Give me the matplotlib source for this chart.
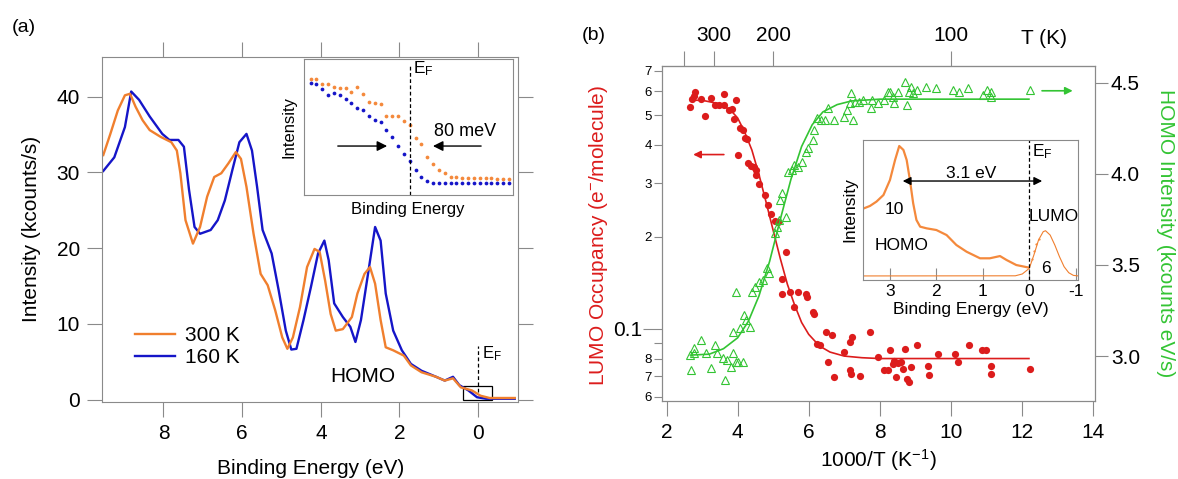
import matplotlib
matplotlib.use('Agg')
import matplotlib.pyplot as plt
from matplotlib.patches import Rectangle
import numpy as np

plt.rcParams['font.family'] = ['Liberation Sans', 'DejaVu Sans']
plt.rcParams['mathtext.default'] = 'regular'

W, H = 1178, 479

# ---- (a) valence band spectra: binding energy (eV), intensity (kcounts/s)
be_160 = [9.53, 9.25, 8.98, 8.82, 8.62, 8.35, 8.03, 7.85, 7.62, 7.48, 7.35, 7.21,
          7.07, 6.80, 6.62, 6.44, 6.25, 6.07, 5.89, 5.75, 5.62, 5.48, 5.25, 5.07,
          4.89, 4.75, 4.62, 4.44, 4.25, 4.07, 3.91, 3.80, 3.66, 3.44, 3.25, 3.12,
          2.98, 2.80, 2.62, 2.48, 2.35, 2.16, 1.94, 1.71, 1.44, 1.07, 0.85, 0.64,
          0.48, 0.25, 0.03, -0.20, -0.93]
int_160 = [30.2, 32.0, 36.0, 40.7, 39.6, 37.4, 35.1, 34.3, 34.3, 33.4, 27.7, 22.8,
           21.9, 22.4, 23.7, 26.3, 30.3, 34.0, 35.1, 32.9, 28.1, 22.4, 19.3, 14.4,
           9.1, 6.6, 6.7, 10.5, 14.9, 19.3, 21.0, 18.4, 12.7, 10.9, 9.6, 7.6,
           10.5, 16.6, 22.8, 21.0, 14.0, 9.1, 6.5, 4.7, 3.8, 3.0, 2.5, 3.0,
           1.9, 1.2, 0.3, 0.1, 0.1]

be_300 = [9.53, 9.35, 9.16, 8.98, 8.85, 8.71, 8.53, 8.35, 8.07, 7.80, 7.66, 7.57,
          7.44, 7.25, 7.07, 6.89, 6.71, 6.53, 6.35, 6.16, 6.03, 5.89, 5.71, 5.53,
          5.35, 5.16, 4.98, 4.85, 4.71, 4.53, 4.35, 4.16, 4.03, 3.89, 3.75, 3.62,
          3.44, 3.21, 3.07, 2.89, 2.75, 2.62, 2.48, 2.35, 2.16, 1.89, 1.71, 1.44,
          1.07, 0.85, 0.64, 0.44, 0.16, -0.06, -0.29, -0.93]
int_300 = [32.3, 35.1, 38.2, 40.2, 40.4, 38.7, 36.9, 35.6, 34.7, 34.0, 32.9, 29.9,
           23.7, 20.6, 22.8, 26.8, 29.4, 29.9, 31.2, 32.7, 31.8, 28.1, 21.9, 16.6,
           15.1, 11.8, 8.2, 6.7, 8.2, 12.2, 17.5, 19.9, 19.5, 15.7, 11.3, 9.1,
           9.3, 10.9, 14.0, 16.6, 17.5, 15.3, 10.5, 6.9, 6.5, 5.8, 4.5, 3.6,
           3.0, 2.5, 2.8, 1.6, 1.2, 0.5, 0.2, 0.2]

# ---- (a) inset: Fermi edge, binding energy (meV), intensity (a.u.)
edge_be = [170, 160, 150, 140, 130, 120, 110, 100, 90, 80, 70, 60, 50, 40, 30,
           20, 10, 0, -10, -20, -30, -40, -50, -60, -70, -80, -90, -100, -110,
           -120, -130, -140, -150, -160, -170]
edge_300 = [85.0, 85.0, 81.4, 81.4, 79.7, 78.9, 78.9, 76.0, 79.2, 74.0, 68.4, 67.9,
            66.7, 57.8, 57.8, 57.8, 54.7, 51.2, 41.9, 37.3, 28.2, 22.5, 18.1, 15.9,
            13.5, 13.5, 12.7, 12.3, 12.3, 12.3, 12.3, 12.3, 11.5, 12.0, 12.0]
edge_160 = [82.1, 81.6, 78.2, 73.3, 74.8, 73.3, 70.3, 67.9, 63.7, 62.5, 58.1, 55.1,
            53.9, 47.8, 42.4, 36.0, 30.1, 25.0, 18.4, 13.5, 10.3, 9.1, 9.1, 8.8,
            8.6, 8.6, 8.8, 8.6, 8.6, 8.6, 8.8, 8.6, 8.6, 8.6, 8.8]

# ---- (b) LUMO occupancy (e-/molecule) vs 1000/T
lumo_x = [2.67, 2.72, 2.78, 2.81, 2.97, 3.08, 3.26, 3.37, 3.48, 3.62, 3.62, 3.77,
          3.83, 3.89, 3.96, 4.02, 4.07, 4.16, 4.20, 4.26, 4.29, 4.37, 4.45, 4.52,
          4.52, 4.61, 4.77, 4.85, 4.94, 5.04, 5.13, 5.24, 5.26, 5.37, 5.47, 5.58,
          5.69, 5.91, 5.96, 6.12, 6.14, 6.50, 6.66, 6.23, 6.32, 6.55, 6.72, 6.99,
          7.15, 7.15, 7.20, 7.22, 7.44, 7.72, 7.96, 8.12, 8.23, 8.30, 8.37, 8.39,
          8.47, 8.50, 8.60, 8.66, 8.71, 8.77, 8.82, 8.87, 9.04, 9.36, 9.38, 9.63,
          10.11, 10.20, 10.52, 10.87, 10.98, 11.14, 11.14, 12.22]
lumo_occ = [0.532, 0.567, 0.577, 0.596, 0.567, 0.498, 0.571, 0.539, 0.539, 0.589,
            0.539, 0.522, 0.526, 0.485, 0.560, 0.372, 0.456, 0.447, 0.420, 0.418,
            0.349, 0.341, 0.339, 0.332, 0.318, 0.299, 0.275, 0.254, 0.238, 0.225,
            0.224, 0.146, 0.130, 0.178, 0.132, 0.118, 0.132, 0.130, 0.127, 0.1136,
            0.1122, 0.0977, 0.0953, 0.0895, 0.0884, 0.0779, 0.0697, 0.0840, 0.0732,
            0.0906, 0.0714, 0.0941, 0.0700, 0.0977, 0.0809, 0.0732, 0.0732, 0.0851,
            0.0770, 0.0785, 0.0697, 0.0773, 0.0778, 0.0741, 0.0862, 0.0688, 0.0671,
            0.0750, 0.0884, 0.0759, 0.0705, 0.0830, 0.0830, 0.0778, 0.0884, 0.0851,
            0.0851, 0.0759, 0.0714, 0.0741]
lumo_fit_x = [2.67, 3.0, 3.5, 3.8, 4.0, 4.2, 4.4, 4.6, 4.8, 5.0, 5.2, 5.4, 5.6,
              5.8, 6.0, 6.3, 6.6, 7.0, 7.5, 8.0, 12.2]
lumo_fit = [0.56, 0.56, 0.545, 0.52, 0.49, 0.44, 0.385, 0.32, 0.26, 0.21, 0.17,
            0.14, 0.12, 0.105, 0.096, 0.088, 0.084, 0.0815, 0.0805, 0.080, 0.080]

# ---- (b) HOMO intensity (kcounts eV/s) vs 1000/T
homo_x = [2.67, 2.70, 2.76, 2.78, 2.97, 3.10, 3.26, 3.37, 3.42, 3.59, 3.64, 3.69,
          3.80, 3.86, 3.96, 4.02, 4.16, 3.86, 3.96, 4.07, 4.18, 4.23, 4.34, 4.40,
          4.50, 4.61, 4.72, 4.83, 4.88, 5.04, 5.10, 5.15, 5.20, 5.26, 5.37, 5.42,
          5.53, 5.60, 5.71, 5.80, 5.91, 5.99, 6.12, 6.14, 6.23, 6.34, 6.45, 6.55,
          6.72, 6.99, 7.09, 7.15, 7.26, 7.20, 7.31, 7.42, 7.53, 7.74, 7.79, 7.96,
          8.12, 8.23, 8.30, 8.37, 8.39, 8.50, 8.71, 8.77, 8.82, 8.87, 8.93, 9.04,
          9.31, 9.58, 10.06, 10.22, 10.49, 10.92, 11.03, 11.14, 11.14, 12.22]
homo_int = [3.005, 2.923, 3.042, 3.015, 3.088, 3.015, 2.932, 3.060, 3.015, 2.987,
            2.868, 2.978, 2.941, 3.015, 2.969, 2.969, 2.969, 3.133, 3.353, 3.152,
            3.225, 3.198, 3.161, 3.353, 3.380, 3.408, 3.417, 3.481, 3.454, 3.673,
            3.710, 3.746, 3.856, 3.893, 3.765, 4.012, 4.021, 4.048, 4.039, 4.066,
            4.121, 4.140, 4.185, 4.240, 4.305, 4.295, 4.295, 4.360, 4.295, 4.313,
            4.350, 4.387, 4.295, 4.442, 4.396, 4.396, 4.405, 4.360, 4.405, 4.387,
            4.405, 4.451, 4.451, 4.423, 4.387, 4.451, 4.506, 4.378, 4.451, 4.478,
            4.442, 4.460, 4.478, 4.469, 4.460, 4.451, 4.469, 4.432, 4.460, 4.451,
            4.423, 4.460]
homo_fit_x = [2.67, 3.2, 3.6, 4.0, 4.3, 4.6, 4.9, 5.2, 5.5, 5.8, 6.1, 6.4, 6.8,
              7.2, 8.0, 12.2]
homo_fit = [3.005, 3.01, 3.04, 3.10, 3.19, 3.33, 3.52, 3.75, 3.97, 4.15, 4.27,
            4.34, 4.38, 4.40, 4.41, 4.41]

# ---- (b) inset: HOMO/LUMO spectrum, binding energy (eV), intensity (a.u.)
spec_be = [3.56, 3.43, 3.29, 3.14, 3.00, 2.89, 2.80, 2.71, 2.64, 2.57, 2.50, 2.43,
           2.35, 2.21, 2.00, 1.78, 1.57, 1.35, 1.06, 0.85, 0.63, 0.49, 0.28, 0.03]
spec_int = [51.2, 52.9, 56.0, 60.7, 71.4, 85.7, 95.7, 92.9, 85.7, 71.4, 54.8, 42.9,
            38.1, 36.9, 35.7, 32.1, 25.0, 20.2, 15.5, 15.5, 17.1, 14.3, 10.7, 9.0]
lumo_pts_be = [-0.05, -0.10, -0.15, -0.20]
lumo_pts_int = [15.0, 21.0, 26.0, 29.0]
lumo_peak_be = [3.57, 0.30, 0.15, 0.0, -0.1, -0.2, -0.3, -0.35, -0.45, -0.55,
                -0.65, -0.75, -0.85, -0.95, -1.06]
lumo_peak_int = [2.9, 3.0, 4.3, 8.3, 17.9, 28.6, 34.5, 35.2, 32.1, 25.0, 16.7,
                 9.5, 5.2, 3.3, 2.9]

T_ticks = [400, 300, 200, 100]
T_labels = ['', '300', '200', '100']

orange = '#f07f2e'
orange_dot = '#f4893c'
blue = '#1515c8'
red = '#dc1c1c'
green = '#33c433'
grey = '#8a8a8a'


def px_box(left, top, right, bottom):
    return [left / W, 1 - bottom / H, (right - left) / W, (bottom - top) / H]


def grey_frame(ax):
    for s in ax.spines.values():
        s.set_color(grey)
        s.set_linewidth(0.8)


fig = plt.figure(figsize=(W / 100, H / 100), dpi=100)

# ================= panel (a) =================
axA = fig.add_axes(px_box(101.7, 56.7, 518.3, 402))
grey_frame(axA)
l160, = axA.plot(be_160, int_160, color=blue, lw=1.7)
l300, = axA.plot(be_300, int_300, color=orange, lw=1.7)
axA.set_xlim(9.57, -1.02)
axA.set_ylim(-0.33, 45.3)
axA.set_xticks([8, 6, 4, 2, 0])
axA.set_yticks([0, 10, 20, 30, 40])
axA.tick_params(direction='out', length=10.8, width=0.8, color=grey,
                labelsize=15, top=True, right=True, pad=5)
axA.legend([l300, l160], ['300 K', '160 K'], loc='lower left',
           bbox_to_anchor=(0.08, 0.10), frameon=False, fontsize=15,
           handlelength=1.9, handletextpad=0.5, labelspacing=0.15,
           borderpad=0, borderaxespad=0)
axA.text(2.93, 3.1, 'HOMO', fontsize=15, ha='center', va='center')
axA.plot([0, 0], [1.0, 7.1], color='black', lw=0.9, ls=(0, (3, 2)))
axA.text(-0.1, 6.1, 'E$_F$', fontsize=12, ha='left', va='center')
axA.add_patch(Rectangle((-0.35, 0), 0.73, 1.8, fill=False, ec='black', lw=0.9))

fig.text(24 / W, 1 - 27 / H, '(a)', fontsize=14, ha='center', va='center')
fig.text(311 / W, 1 - 468 / H, 'Binding Energy (eV)', fontsize=15,
         ha='center', va='center')
fig.text(32 / W, 1 - 229 / H, 'Intensity (kcounts/s)', fontsize=15,
         ha='center', va='center', rotation=90)

# inset: Fermi edge
axAi = fig.add_axes(px_box(303.5, 59, 512.5, 195))
grey_frame(axAi)
axAi.plot(edge_be, edge_300, 'o', color=orange_dot, ms=2.7, mew=0)
axAi.plot(edge_be, edge_160, 'o', color=blue, ms=2.7, mew=0)
axAi.set_xlim(182, -176)
axAi.set_ylim(0, 100)
axAi.set_xticks([])
axAi.set_yticks([])
axAi.axvline(0, ymax=0.955, color='black', lw=0.9, ls=(0, (3, 2)))
axAi.text(-5, 93, 'E$_F$', fontsize=12.5, ha='left', va='center')
axAi.annotate('', xy=(34, 36), xytext=(128, 36),
              arrowprops=dict(arrowstyle='-|>', color='black', lw=1.0,
                              mutation_scale=15))
axAi.annotate('', xy=(-35, 36), xytext=(-127, 36),
              arrowprops=dict(arrowstyle='-|>', color='black', lw=1.0,
                              mutation_scale=15))
axAi.text(-41, 46.6, '80 meV', fontsize=13, ha='left', va='center')
axAi.set_ylabel('Intensity', fontsize=12, labelpad=5)
axAi.set_xlabel('Binding Energy', fontsize=12, labelpad=5)

# ================= panel (b) =================
axB = fig.add_axes(px_box(662, 66, 1095, 401))
grey_frame(axB)
axB.set_yscale('log')
axB.plot(lumo_fit_x, lumo_fit, color=red, lw=1.2)
axB.plot(lumo_x, lumo_occ, 'o', color=red, ms=5.2, mew=0)
axB.set_xlim(1.87, 14.06)
axB.set_ylim(0.0581, 0.725)
axB.set_xticks([2, 4, 6, 8, 10, 12, 14])
axB.set_yticks([0.1], labels=['0.1'])
axB.set_yticks([0.06, 0.07, 0.08, 0.09, 0.2, 0.3, 0.4, 0.5, 0.6, 0.7],
               labels=['6', '7', '8', '', '2', '3', '4', '5', '6', '7'], minor=True)
axB.tick_params(axis='x', direction='out', length=10.8, width=0.8, color=grey,
                labelsize=15, pad=5)
axB.tick_params(axis='y', which='major', direction='out', length=13.5, width=0.8,
                color=grey, labelsize=15, pad=1)
axB.tick_params(axis='y', which='minor', direction='out', length=5.8, width=0.8,
                color=grey, labelsize=9.5, pad=1.5)
axB.annotate('', xy=(2.67, 0.372), xytext=(3.69, 0.372),
             arrowprops=dict(arrowstyle='-|>', color=red, lw=1.2, mutation_scale=11))

topT = axB.secondary_xaxis('top', functions=(lambda x: 1000 / np.asarray(x, float),
                                             lambda t: 1000 / np.asarray(t, float)))
topT.set_xticks(T_ticks, labels=T_labels)
topT.tick_params(direction='out', length=10.8, width=0.8, color=grey,
                 labelsize=15, pad=4)
topT.spines['top'].set_color(grey)

axR = axB.twinx()
grey_frame(axR)
axR.plot(homo_fit_x, homo_fit, color=green, lw=1.2)
axR.plot(homo_x, homo_int, '^', mfc='none', mec=green, ms=5.5, mew=0.8)
axR.set_ylim(2.753, 4.592)
axR.set_yticks([3.0, 3.5, 4.0, 4.5], labels=['3.0', '3.5', '4.0', '4.5'])
axR.tick_params(axis='y', direction='out', length=9.5, width=0.8, color=grey,
                labelsize=15, pad=2)
axR.annotate('', xy=(13.51, 4.456), xytext=(12.49, 4.456),
             arrowprops=dict(arrowstyle='-|>', color=green, lw=1.2, mutation_scale=11))

fig.text(594 / W, 1 - 36 / H, '(b)', fontsize=14, ha='center', va='center')
fig.text(1044 / W, 1 - 38 / H, 'T (K)', fontsize=15, ha='center', va='center')
fig.text(878 / W, 1 - 460 / H, '1000/T (K$^{-1}$)', fontsize=15,
         ha='center', va='center')
fig.text(599 / W, 1 - 235 / H, 'LUMO Occupancy (e$^{-}$/molecule)', fontsize=15,
         color=red, ha='center', va='center', rotation=90)
fig.text(1166 / W, 1 - 233 / H, 'HOMO Intensity (kcounts eV/s)', fontsize=15,
         color=green, ha='center', va='center', rotation=270)

# inset: HOMO-LUMO spectrum
axBi = fig.add_axes(px_box(863.3, 140, 1078.3, 280))
grey_frame(axBi)
axBi.plot(lumo_peak_be, lumo_peak_int, color=orange, lw=0.8)
axBi.plot(spec_be, spec_int, color=orange_dot, lw=1.6)
axBi.plot(lumo_pts_be, lumo_pts_int, 'o', color=orange_dot, ms=1.6, mew=0)
axBi.set_xlim(3.574, -1.056)
axBi.set_ylim(0, 100)
axBi.set_xticks([3, 2, 1, 0, -1], labels=['3', '2', '1', '0', '-1'])
axBi.set_yticks([])
axBi.tick_params(axis='x', direction='in', length=8.5, width=0.8, color=grey,
                 labelsize=12.5, pad=3)
axBi.axvline(0, color='black', lw=0.9, ls=(0, (3, 2)))
axBi.annotate('', xy=(2.785, 70.7), xytext=(-0.338, 70.7),
              arrowprops=dict(arrowstyle='<|-|>', color='black', lw=1.0,
                              mutation_scale=12))
axBi.text(1.26, 76.2, '3.1 eV', fontsize=12.5, ha='center', va='center')
axBi.text(-0.05, 91.6, 'E$_F$', fontsize=12.5, ha='left', va='center')
axBi.text(2.91, 50, '10', fontsize=12.5, ha='center', va='center')
axBi.text(2.76, 24.3, 'HOMO', fontsize=12.5, ha='center', va='center')
axBi.text(-0.53, 45.2, 'LUMO', fontsize=12.5, ha='center', va='center')
axBi.text(-0.36, 7.9, '6', fontsize=12.5, ha='center', va='center')
axBi.set_ylabel('Intensity', fontsize=12.5, labelpad=4)
axBi.set_xlabel('Binding Energy (eV)', fontsize=12.5, labelpad=2)

fig.savefig('out.png', dpi=100)
